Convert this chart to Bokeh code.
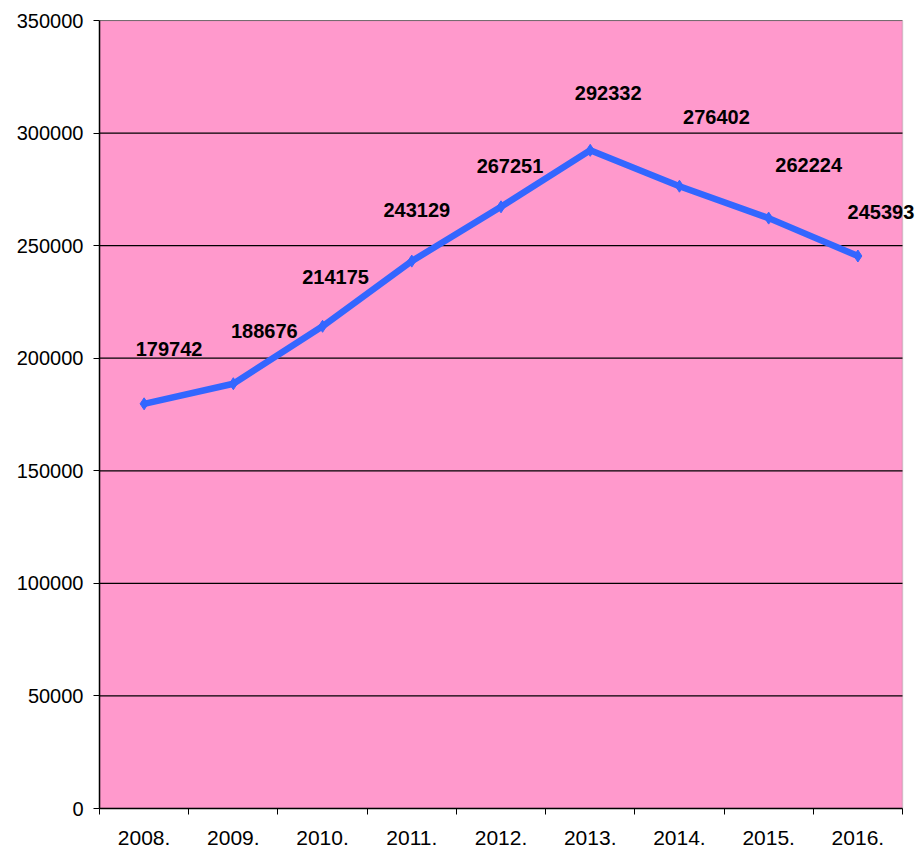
from bokeh.plotting import figure
from bokeh.models import ColumnDataSource, LabelSet, FixedTicker, Range1d, BasicTickFormatter, BoxAnnotation
from bokeh.core.properties import value
from bokeh.embed import file_html
from bokeh.resources import INLINE

years = ["2008.", "2009.", "2010.", "2011.", "2012.", "2013.", "2014.", "2015.", "2016."]
values = [179742, 188676, 214175, 243129, 267251, 292332, 276402, 262224, 245393]
y_ticks = [0, 50000, 100000, 150000, 200000, 250000, 300000, 350000]

# label placement (screen px offsets from each point)
label_dx = [25, 31, 13, 5, 9, 18, 37, 40, 23]
label_dy = [55, 53, 49, 51, 41, 57, 69, 53, 44]

n = len(years)
ymax = y_ticks[-1]
xpos = [i + 0.5 for i in range(n)]
src = ColumnDataSource(dict(x=xpos, y=values, lab=[str(v) for v in values],
                            dx=label_dx, dy=label_dy))

# frame spans to the right canvas edge so that the last label is not clipped;
# the pink plot area itself covers only the n categories (803 px of 819 px)
x_end = n * 819 / 803

p = figure(width=918, height=850, output_backend="svg", toolbar_location=None,
           x_range=Range1d(0, x_end), y_range=Range1d(0, ymax),
           min_border_left=99, min_border_top=20, min_border_right=0, min_border_bottom=42)
p.background_fill_color = "white"
p.border_fill_color = "white"
p.outline_line_color = None

plot_area = BoxAnnotation(left=0, right=n, bottom=0, top=ymax, fill_color="#FF99CC", fill_alpha=1.0,
                          line_color="#808080", line_width=1.5, level="underlay")
p.add_layout(plot_area)

# horizontal grid lines across the plot area only
p.segment(x0=[0] * len(y_ticks), x1=[n] * len(y_ticks), y0=y_ticks, y1=y_ticks,
          line_color="black", line_width=1.2)

p.line("x", "y", source=src, line_color="#3366FF", line_width=6.5)
p.scatter("x", "y", source=src, marker="diamond", size=12, color="#3366FF")

labels = LabelSet(x="x", y="y", text="lab", source=src, x_offset="dx", y_offset="dy",
                  text_align="center", text_baseline="middle", text_font=value("Liberation Sans"),
                  text_font_style="bold", text_font_size="20px", text_color="black")
p.add_layout(labels)

# y axis
p.yaxis.ticker = FixedTicker(ticks=y_ticks)
p.yaxis.formatter = BasicTickFormatter(use_scientific=False)
p.yaxis.major_tick_out = 6
p.yaxis.major_tick_in = 0
p.yaxis.minor_tick_line_color = None
p.yaxis.axis_line_color = "black"
p.yaxis.axis_line_width = 1.5
p.yaxis.major_tick_line_color = "black"
p.yaxis.major_label_text_font = "Liberation Sans"
p.yaxis.major_label_text_font_size = "20px"
p.yaxis.major_label_text_color = "black"
p.yaxis.major_label_standoff = 10

# x axis: labels at centres, tick marks at boundaries
p.xaxis.bounds = (0, n)
p.xaxis.ticker = FixedTicker(ticks=xpos, minor_ticks=list(range(n + 1)))
p.xaxis.major_label_overrides = {x: y for x, y in zip(xpos, years)}
p.xaxis.major_tick_out = 0
p.xaxis.major_tick_in = 0
p.xaxis.minor_tick_out = 6
p.xaxis.minor_tick_in = 0
p.xaxis.minor_tick_line_color = "black"
p.xaxis.axis_line_color = "black"
p.xaxis.axis_line_width = 1.5
p.xaxis.major_label_text_font = "Liberation Sans"
p.xaxis.major_label_text_font_size = "21px"
p.xaxis.major_label_text_color = "black"
p.xaxis.major_label_standoff = 16

p.xgrid.grid_line_color = None
p.ygrid.grid_line_color = None

open("out.html", "w").write(file_html(p, INLINE))
